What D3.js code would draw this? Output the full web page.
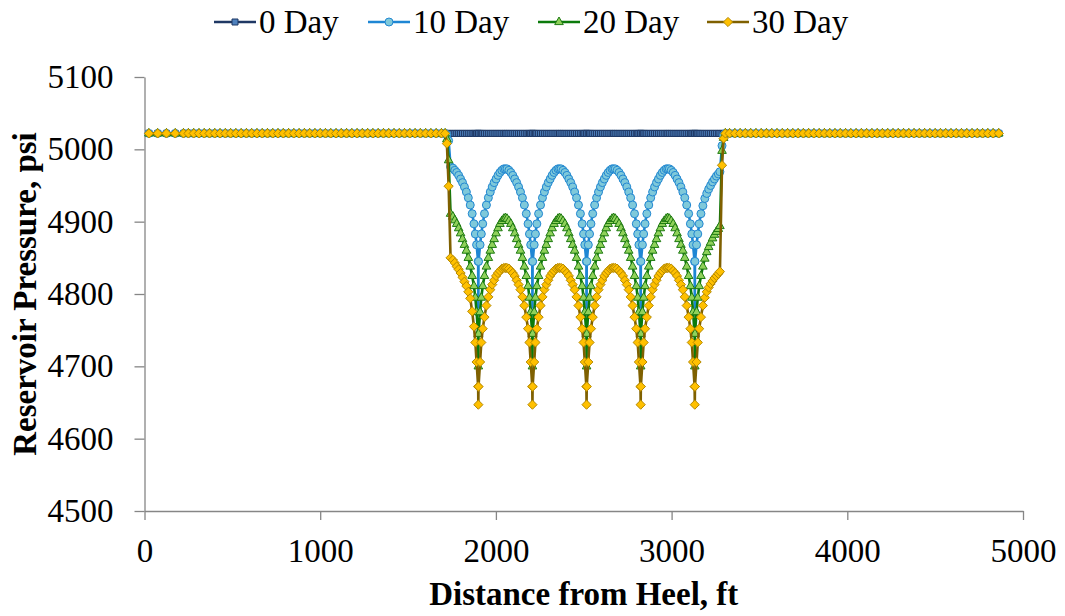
<!DOCTYPE html>
<html><head><meta charset="utf-8">
<script src="https://cdn.jsdelivr.net/npm/d3@7"></script>
<style>body{margin:0;background:#fff}svg{display:block}</style>
</head><body>
<svg id="chart" width="1065" height="616"></svg>
<script>
// ---------------- data ----------------
const seriesNames = ["0 Day", "10 Day", "20 Day", "30 Day"];
const xTicks = [0, 1000, 2000, 3000, 4000, 5000];
const yTicks = [4500, 4600, 4700, 4800, 4900, 5000, 5100];
const initialPressure = 5022;

// grid blocks outside the stimulated zone (all at initial pressure)
const leftFlatFt = [25,75,125,175,222,250,280,310,340,370,400,430,460,490,520,550,580,610,640,670,700,730,760,790,820,850,880,910,940,970,1000,1030,1060,1090,1120,1150,1180,1210,1240,1270,1300,1330,1360,1390,1420,1450,1480,1510,1540,1570,1600,1630,1660,1690];
const rightFlatFt = [3330,3360,3390,3420,3450,3480,3510,3540,3570,3600,3630,3660,3690,3720,3750,3780,3810,3840,3870,3900,3930,3960,3990,4020,4050,4080,4110,4140,4170,4200,4230,4260,4290,4320,4350,4380,4410,4440,4470,4500,4530,4560,4590,4620,4650,4680,4710,4740,4770,4800,4830,4862];

// stimulated zone
const fracturesFt = [1900, 2208, 2516, 2824, 3132];
const offsetFt      = [0,1,10,17,25,35,46,57,68,79,90,101,112,123,134,145,154];
const leftOffsetFt  = [0,1,10,17,25,35,46,57,68,79,90,101,112,123,134,145,158];
const rightOffsetFt = [0,1,10,17,25,35,46,57,68,79,90,101,112,123,134,143];
const leftOuterFt  = [1731, 1721, 1711];
const rightOuterFt = [3287, 3296, 3306];

// pressure vs distance from fracture, psi
const interior10 = [4775,4845,4868,4883,4897,4911,4923,4933,4941,4948,4954,4959,4964,4968,4971,4973,4973];
const interior20 = [4700,4745,4775,4795,4811,4825,4838,4850,4860,4868,4876,4884,4891,4897,4901,4904,4905];
const interior30 = [4647,4672,4706,4733,4752,4768,4784,4796,4806,4813,4819,4825,4829,4832,4835,4836,4836];
const left10 = [4775,4845,4868,4883,4897,4911,4923,4933,4941,4948,4954,4959,4964,4968,4971,4974,4976];
const left20 = [4700,4745,4775,4795,4811,4825,4838,4850,4860,4868,4876,4884,4891,4897,4902,4907,4911];
const left30 = [4647,4672,4706,4733,4755,4776,4794,4803,4811,4817,4823,4829,4834,4838,4843,4847,4850];
const right10 = [4775,4845,4868,4883,4897,4911,4922,4932,4939,4945,4950,4955,4959,4963,4966,4969];
const right20 = [4700,4745,4775,4795,4811,4825,4838,4849,4858,4865,4871,4877,4882,4886,4890,4894];
const right30 = [4647,4672,4706,4733,4752,4768,4784,4795,4803,4809,4814,4818,4822,4825,4828,4831];
const leftOuter10 = [5012, 5020, 5022];
const leftOuter20 = [4985, 5014, 5022];
const leftOuter30 = [4949, 5008, 5022];
const rightOuter10 = [5005, 5019, 5022];
const rightOuter20 = [4998, 5016, 5022];
const rightOuter30 = [4978, 5015, 5022];

// ---------------- build point table ----------------
const profiles = {
  "10 Day": {interior: interior10, left: left10, right: right10, leftOuter: leftOuter10, rightOuter: rightOuter10},
  "20 Day": {interior: interior20, left: left20, right: right20, leftOuter: leftOuter20, rightOuter: rightOuter20},
  "30 Day": {interior: interior30, left: left30, right: right30, leftOuter: leftOuter30, rightOuter: rightOuter30}
};
const slots = [];
for (let j = leftOuterFt.length - 1; j >= 0; j--) slots.push({x: leftOuterFt[j], part: "leftOuter", i: j});
for (let i = leftOffsetFt.length - 1; i >= 1; i--) slots.push({x: fracturesFt[0] - leftOffsetFt[i], part: "left", i});
fracturesFt.forEach((f, n) => {
  slots.push({x: f, part: "interior", i: 0});
  if (n < fracturesFt.length - 1) {
    for (let i = 1; i < offsetFt.length; i++) slots.push({x: f + offsetFt[i], part: "interior", i});
    for (let i = offsetFt.length - 2; i >= 1; i--) slots.push({x: fracturesFt[n + 1] - offsetFt[i], part: "interior", i});
  } else {
    for (let i = 1; i < rightOffsetFt.length; i++) slots.push({x: f + rightOffsetFt[i], part: "right", i});
  }
});
for (let j = 0; j < rightOuterFt.length; j++) slots.push({x: rightOuterFt[j], part: "rightOuter", i: j});

function seriesPoints(name) {
  const pts = leftFlatFt.map(x => [x, initialPressure]);
  slots.forEach(s => {
    const v = name === "0 Day" ? initialPressure : profiles[name][s.part][s.i];
    pts.push([s.x, v]);
  });
  rightFlatFt.forEach(x => pts.push([x, initialPressure]));
  return pts;
}

// ---------------- drawing ----------------
const svg = d3.select("#chart");
const FONT = "'Liberation Serif','Times New Roman',serif";
const x = d3.scaleLinear().domain([0, 5000]).range([144.5, 1023]);
const y = d3.scaleLinear().domain([4500, 5100]).range([511, 77]);
const axisColor = "#868686";

const styles = {
  "0 Day":  {line: "#1F3864", fill: "#4F81BD", stroke: "#1F3864", shape: "square"},
  "10 Day": {line: "#1E86D4", fill: "#7FC9DA", stroke: "#2388D2", shape: "circle"},
  "20 Day": {line: "#0B7A0B", fill: "#8FD15A", stroke: "#1E7A12", shape: "triangle"},
  "30 Day": {line: "#7F6000", fill: "#FFC000", stroke: "#B58900", shape: "diamond"}
};
const shapePath = {
  square: `M-3,-3H3V3H-3Z`,
  circle: `M4,0A4,4 0 1,1 -4,0A4,4 0 1,1 4,0Z`,
  triangle: `M0,-5L4.3,2.6L-4.3,2.6Z`,
  diamond: `M0,-4.6L4.6,0L0,4.6L-4.6,0Z`
};

// axes
const gy = svg.append("g").attr("transform", `translate(${x(0)},0)`)
  .call(d3.axisLeft(y).tickValues(yTicks).tickSize(10).tickSizeOuter(0).tickPadding(21).tickFormat(d3.format("d")));
const gx = svg.append("g").attr("transform", `translate(0,${y(4500)})`)
  .call(d3.axisBottom(x).tickValues(xTicks).tickSize(9).tickSizeOuter(0).tickPadding(19).tickFormat(d3.format("d")));
[gx, gy].forEach(g => {
  g.attr("font-family", null).attr("font-size", null);
  g.selectAll("path,line").attr("stroke", axisColor).attr("stroke-width", 1.3);
  g.selectAll("text").style("font-family", FONT).style("font-size", "33px").attr("fill", "#000");
});

// series
const lineGen = d3.line().x(d => x(d[0])).y(d => y(d[1]));
seriesNames.forEach(name => {
  const st = styles[name];
  const pts = seriesPoints(name);
  const g = svg.append("g");
  g.append("path").attr("d", lineGen(pts)).attr("fill", "none")
    .attr("stroke", st.line).attr("stroke-width", 2.6).attr("stroke-linejoin", "round");
  g.selectAll("path.m").data(pts).join("path").attr("class", "m")
    .attr("d", shapePath[st.shape])
    .attr("transform", d => `translate(${x(d[0])},${y(d[1])})`)
    .attr("fill", st.fill).attr("stroke", st.stroke).attr("stroke-width", 1);
});

// legend
const legendX = [214, 368, 538, 707];
const lg = svg.append("g");
seriesNames.forEach((name, k) => {
  const st = styles[name];
  const x0 = legendX[k], ly = 22;
  lg.append("line").attr("x1", x0).attr("x2", x0 + 42).attr("y1", ly).attr("y2", ly)
    .attr("stroke", st.line).attr("stroke-width", 2.6);
  lg.append("path").attr("d", shapePath[st.shape]).attr("transform", `translate(${x0 + 21},${ly})`)
    .attr("fill", st.fill).attr("stroke", st.stroke).attr("stroke-width", 1);
  lg.append("text").attr("x", x0 + 45).attr("y", 33).style("font-family", FONT).style("font-size", "33px")
    .attr("fill", "#000").text(name);
});

// axis titles
svg.append("text").attr("x", (x(0) + x(5000)) / 2).attr("y", 605).attr("text-anchor", "middle")
  .style("font-family", FONT).style("font-size", "33px").style("font-weight", "bold").text("Distance from Heel, ft");
svg.append("text").attr("transform", `translate(36,${(y(4500) + y(5100)) / 2}) rotate(-90)`).attr("text-anchor", "middle")
  .style("font-family", FONT).style("font-size", "33px").style("font-weight", "bold").text("Reservoir Pressure, psi");
</script>
</body></html>
